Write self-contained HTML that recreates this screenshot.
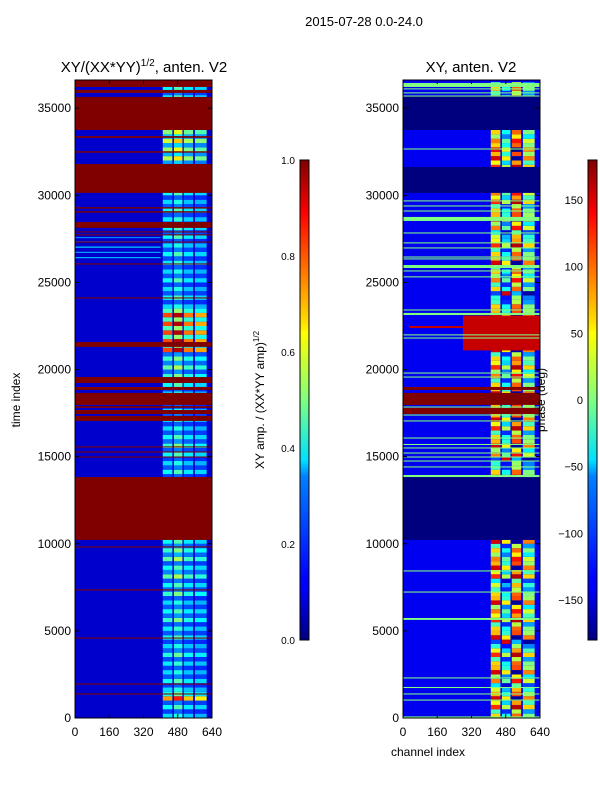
<!DOCTYPE html>
<html><head><meta charset="utf-8"><style>
body{margin:0;background:#fff;}
svg{display:block;font-family:"Liberation Sans",sans-serif;}
</style></head><body>
<svg id="fig" width="600" height="800" viewBox="0 0 600 800" xmlns="http://www.w3.org/2000/svg">
<defs>
<linearGradient id="jet" x1="0" y1="1" x2="0" y2="0">
<stop offset="0" stop-color="#00007f"/><stop offset="0.11" stop-color="#0000ff"/><stop offset="0.125" stop-color="#0000ff"/>
<stop offset="0.34" stop-color="#0080ff"/><stop offset="0.375" stop-color="#00e0ff"/><stop offset="0.5" stop-color="#80ff80"/>
<stop offset="0.64" stop-color="#ffff00"/><stop offset="0.66" stop-color="#ffe000"/><stop offset="0.89" stop-color="#ff0000"/><stop offset="1" stop-color="#7f0000"/>
</linearGradient>
</defs>
<text x="364" y="26" font-size="13" text-anchor="middle">2015-07-28 0.0-24.0</text>
<text x="144" y="72" font-size="15" text-anchor="middle">XY/(XX*YY)<tspan font-size="10" dy="-6">1/2</tspan><tspan dy="6">, anten. V2</tspan></text>
<text x="471" y="72" font-size="15" text-anchor="middle">XY, anten. V2</text>
<g id="leftPlot"></g>
<g id="rightPlot"></g>
<g id="axes"></g>
<text transform="translate(20,400) rotate(-90)" font-size="12" text-anchor="middle">time index</text>
<text x="428" y="756" font-size="12" text-anchor="middle">channel index</text>
<rect x="300" y="160" width="9" height="480" fill="url(#jet)" stroke="#000" stroke-width="1"/>
<rect x="588" y="160" width="9" height="480" fill="url(#jet)" stroke="#000" stroke-width="1"/>
<text transform="translate(264,400) rotate(-90)" font-size="12" text-anchor="middle">XY amp. / (XX*YY amp)<tspan font-size="8" dy="-5">1/2</tspan></text>
<text transform="translate(545,400) rotate(-90)" font-size="12" text-anchor="middle">phase (deg)</text>
</svg>
<script>
// ---- data ----
const timeBins = [0,500,1000,1500,2000,2500,3000,3500,4000,4500,5000,5500,6000,6500,7000,7500,8000,8500,9000,9500,10000,10500,11000,11500,12000,12500,13000,13500,14000,14500,15000,15500,16000,16500,17000,17500,18000,18500,19000,19500,20000,20500,21000,21500,22000,22500,23000,23500,24000,24500,25000,25500,26000,26500,27000,27500,28000,28500,29000,29500,30000,30500,31000,31500,32000,32500,33000,33500,34000,34500,35000,35500,36000];
const ampValues = [0.4,0.45,0.85,0.4,0.45,0.4,0.42,0.48,0.4,0.45,0.42,0.5,0.45,0.4,0.5,0.45,0.55,0.45,0.55,0.5,0.45,0.4,0.4,0.4,0.4,0.4,0.4,0.4,0.45,0.4,0.45,0.5,0.45,0.4,0.45,0.4,0.45,0.4,0.45,0.5,0.55,0.5,0.95,0.95,0.95,0.95,0.95,0.4,0.45,0.4,0.45,0.4,0.42,0.45,0.4,0.45,0.45,0.42,0.45,0.4,0.45,0.45,0.4,0.6,0.65,0.62,0.68,0.6,0.45,0.45,0.45,0.45,0.45];
const phaseValues = [60,120,150,30,90,150,60,120,-30,150,60,120,90,150,60,30,120,150,90,60,150,150,150,150,150,150,150,150,60,-30,90,150,60,120,150,150,150,150,60,90,120,60,150,150,150,150,150,60,-30,60,90,60,150,60,120,30,90,150,60,120,90,150,60,120,150,140,90,60,60,60,60,60,60];
const stripeChannels = [[410,455],[462,502],[508,552],[560,615]];
const stripeAmpFactor = [0.85,1.0,0.8,0.75];
const stripePhaseShift = [0,-100,40,-60];
const ampFlagBands = [[36220,36620],[35880,36050],[33750,35650],[33300,33400],[32450,32530],[30140,31800],[29240,29320],[29010,29090],[28130,28470],[27870,27930],[27700,27760],[27290,27350],[26030,26090],[24080,24140],[21300,21580],[19230,19570],[18830,19000],[17970,18660],[17800,17900],[17450,17680],[17050,17340],[15530,15590],[15240,15300],[14950,15010],[10220,13830],[9790,9850],[7320,7380],[4560,4620],[1920,1980],[1350,1410]];
const ampLeftRows = [[26400,0.3],[26700,0.28],[27000,0.33],[27300,0.3],[27550,0.25]];
const phaseNavyBands = [[33750,35700],[30140,31630],[10220,13830]];
const phaseRedBands = [[18830,19000],[17970,18660],[17450,17800]];
const phaseGreenLines = [[36220,36450],[36080,36140],[35850,35910],[35670,35730],[32630,32690],[29650,29710],[29360,29420],[29070,29130],[28530,28760],[27810,27870],[27240,27300],[26950,27010],[26430,26490],[26320,26380],[25830,26000],[25630,25690],[25290,25350],[23390,23450],[23130,23250],[21960,22020],[21780,21840],[19770,19830],[19540,19600],[17820,17880],[17360,17420],[17020,17080],[16040,16100],[15670,15730],[15470,15530],[15180,15240],[14950,15010],[14720,14780],[14380,14440],[13830,13950],[8410,8470],[7200,7260],[5630,5740],[2270,2330],[1720,1780],[1350,1410],[1000,1060],[30,90]];
const phaseHotBand = [21100,23100];
const phaseHotValue = 155;
const yTicks = [0,5000,10000,15000,20000,25000,30000,35000];
const xTicks = [0,160,320,480,640];
const ampCbTicks = [0.0,0.2,0.4,0.6,0.8,1.0];
const phaseCbTicks = [-150,-100,-50,0,50,100,150];

// ---- scales ----
const Y0=718, TMAX=36620, PTOP=80, PW=137;
const yS = t => Y0 - t*(Y0-PTOP)/TMAX;
const xL = c => 75 + c*PW/640;
const xR = c => 403 + c*PW/640;
function jet(v){v=Math.max(0,Math.min(1,v));
 const f=x=>Math.round(255*Math.max(0,Math.min(1,1.5-Math.abs(4*v-x))));
 return `rgb(${f(3)},${f(2)},${f(1)})`;}
const phaseColor = p => { p=((p+180)%360+360)%360-180; return jet((p+180)/360); };
const NS="http://www.w3.org/2000/svg";
function rect(g,x,y,w,h,fill){const r=document.createElementNS(NS,'rect');
 r.setAttribute('x',x);r.setAttribute('y',y);r.setAttribute('width',w);r.setAttribute('height',h);r.setAttribute('fill',fill);
 g.appendChild(r);return r;}
function band(g,xs,t0,t1,fill,name){const r=rect(g,xs(0),yS(t1),PW,Math.max(1,yS(t0)-yS(t1)),fill);
 
 }

const L=document.getElementById('leftPlot'), R=document.getElementById('rightPlot');
rect(L,75,PTOP,PW,Y0-PTOP,jet(0.075));
rect(R,403,PTOP,PW,Y0-PTOP,phaseColor(-140));
ampLeftRows.forEach(([t,v])=>{const r=rect(L,xL(0),yS(t+60),xL(400)-xL(0),1.2,jet(v));
 
 });
timeBins.forEach((t,i)=>{
 const t1=Math.min(t+500,TMAX), tm=t+250;
 stripeChannels.forEach(([c0,c1],s)=>{
  const a=ampValues[i]*stripeAmpFactor[s];
  let r=rect(L,xL(c0),yS(tm),xL(c1)-xL(c0),yS(t)-yS(tm),jet(a));
  
  
  r=rect(L,xL(c0),yS(t1),xL(c1)-xL(c0),yS(tm)-yS(t1),jet(Math.max(0.12,a*0.55)));
  
  
  const p=phaseValues[i]+stripePhaseShift[s];
  r=rect(R,xR(c0),yS(tm),xR(c1)-xR(c0),yS(t)-yS(tm),phaseColor(p));
  
  
  r=rect(R,xR(c0),yS(t1),xR(c1)-xR(c0),yS(tm)-yS(t1),phaseColor(p-80));
  
  
 });
});
{
 const r=rect(R,xR(280),yS(phaseHotBand[1]),xR(640)-xR(280),yS(phaseHotBand[0])-yS(phaseHotBand[1]),phaseColor(phaseHotValue));
 
 
 const r2=rect(R,xR(30),yS(22500),xR(280)-xR(30),2,phaseColor(phaseHotValue));
 
 
}
ampFlagBands.forEach(([a,b])=>band(L,xL,a,b,'#800000','amp-flag-band'));
phaseNavyBands.forEach(([a,b])=>band(R,xR,a,b,'#00007f','phase-flag-band'));
phaseRedBands.forEach(([a,b])=>band(R,xR,a,b,'#800000','phase-flag-band'));
phaseGreenLines.forEach(([a,b])=>band(R,xR,a,b,'#80ff80','phase-zero-line'));

// ---- axes ----
const A=document.getElementById('axes');
function line(x1,y1,x2,y2,w){const l=document.createElementNS(NS,'line');
 l.setAttribute('x1',x1);l.setAttribute('y1',y1);l.setAttribute('x2',x2);l.setAttribute('y2',y2);
 l.setAttribute('stroke','#000');l.setAttribute('stroke-width',w||1);A.appendChild(l);return l;}
function text(x,y,s,anchor,size){const t=document.createElementNS(NS,'text');
 t.setAttribute('x',x);t.setAttribute('y',y);t.setAttribute('text-anchor',anchor);t.setAttribute('font-size',size||12);
 t.textContent=s;A.appendChild(t);return t;}
[[75,'left'],[403,'right']].forEach(([x0,side])=>{
 const fr=document.createElementNS(NS,'rect');
 fr.setAttribute('x',x0);fr.setAttribute('y',PTOP);fr.setAttribute('width',PW);fr.setAttribute('height',Y0-PTOP);
 fr.setAttribute('fill','none');fr.setAttribute('stroke','#000');
 
 
 A.appendChild(fr);
 const xs=side==='left'?xL:xR;
 yTicks.forEach(t=>{const y=yS(t);line(x0,y,x0+4,y);line(x0+PW,y,x0+PW-4,y);
  const lb=text(x0-4,y+4,String(t),'end');
  
  });
 xTicks.forEach(c=>{const x=xs(c);line(x,Y0,x,Y0-4);line(x,PTOP,x,PTOP+4);
  const lb=text(x,736,String(c),'middle');
  
  });
});
ampCbTicks.forEach(v=>{const y=640-v*480;line(300,y,309,y);
 const lb=text(295,y+4,v.toFixed(1),'end',10);
 
 });
phaseCbTicks.forEach(v=>{const y=640-(v+180)/360*480;line(588,y,597,y);
 const lb=text(583,y+4,v<0?'\u2212'+(-v):String(v),'end',11);
 
 });
</script>
</body></html>
